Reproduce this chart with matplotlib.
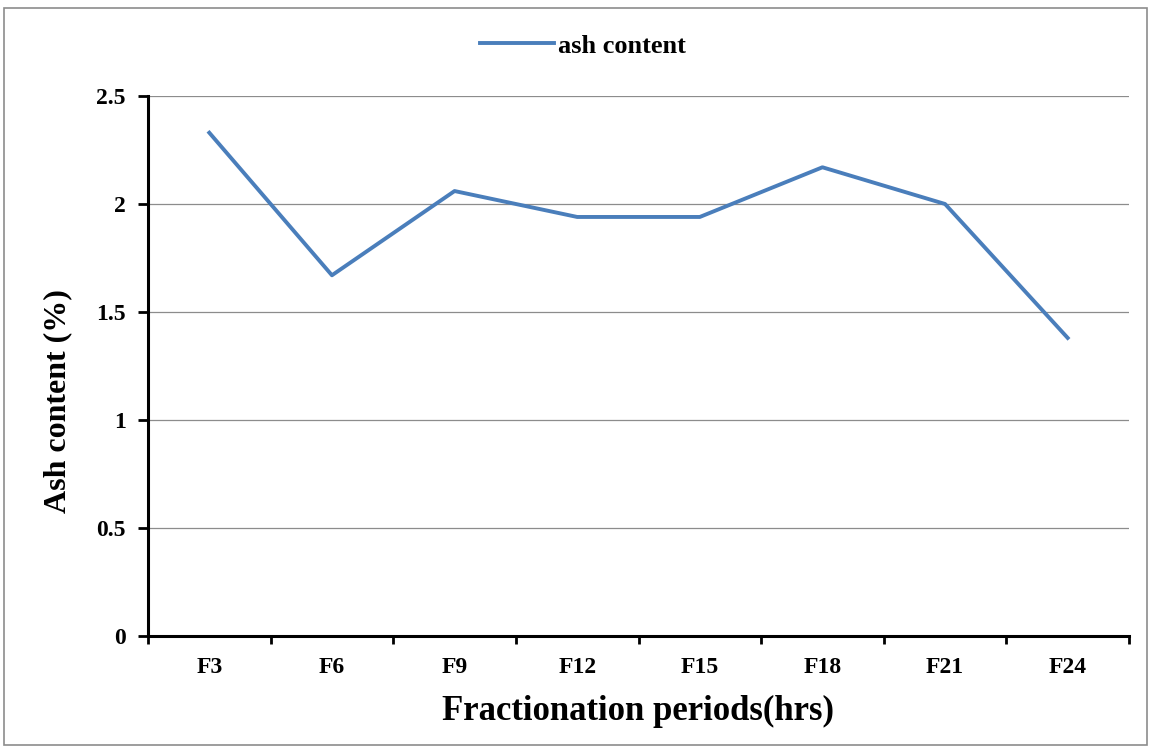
import numpy as np
import matplotlib.pyplot as plt
from matplotlib.patches import Rectangle

categories = ['F3', 'F6', 'F9', 'F12', 'F15', 'F18', 'F21', 'F24']
ash_content = [2.33, 1.67, 2.06, 1.94, 1.94, 2.17, 2.00, 1.38]

plt.rcParams['font.family'] = ['Liberation Serif', 'DejaVu Serif']
plt.rcParams['font.weight'] = 'bold'

W, H = 1151, 751
fig = plt.figure(figsize=(W/100, H/100), dpi=100)
ax = fig.add_axes([148/W, 1-636/H, (1129-148)/W, (636-96)/H])

# outer chart border
fig.patches.append(Rectangle((4/W, 6/H), 1143/W, 737/H, transform=fig.transFigure,
                             fill=False, edgecolor='#8c8c8c', linewidth=1.2))

x = np.arange(len(categories))
ax.plot(x, ash_content, color='#4a7ebb', linewidth=2.8, label='ash content')

ax.set_xlim(-0.5, len(categories) - 0.5)
ax.set_ylim(0, 2.5)
ax.set_yticks([0, 0.5, 1, 1.5, 2, 2.5])
ax.set_yticklabels(['0', '0.5', '1', '1.5', '2', '2.5'], fontsize=17, fontweight='bold')
ax.yaxis.grid(True, color='#8c8c8c', linewidth=0.9)
ax.set_axisbelow(True)

# boundary ticks as major, labels at category centres as minor
ax.set_xticks(np.arange(-0.5, len(categories), 1.0))
ax.set_xticklabels([])
ax.set_xticks(x, minor=True)
ax.set_xticklabels(categories, minor=True, fontsize=17, fontweight='bold')
ax.tick_params(axis='x', which='minor', length=0, pad=15)
ax.tick_params(axis='x', which='major', length=6, width=2, direction='out')
ax.tick_params(axis='y', length=7, width=2, direction='out', pad=9)

for side in ['top', 'right']:
    ax.spines[side].set_visible(False)
for side in ['left', 'bottom']:
    ax.spines[side].set_linewidth(2.2)

fig.text(638/W, 1-711/H, 'Fractionation periods(hrs)', fontsize=25, fontweight='bold',
         ha='center', va='center')
fig.text(58/W, 1-401/H, 'Ash content (%)', fontsize=23, fontweight='bold',
         ha='center', va='center', rotation=90)

fig.legend(*ax.get_legend_handles_labels(), loc='center', bbox_to_anchor=(583/W, 1-46/H),
           frameon=False, prop={'size': 19, 'weight': 'bold'},
           handlelength=2.8, handletextpad=0.15, borderpad=0)

fig.savefig('out.png', dpi=100)
